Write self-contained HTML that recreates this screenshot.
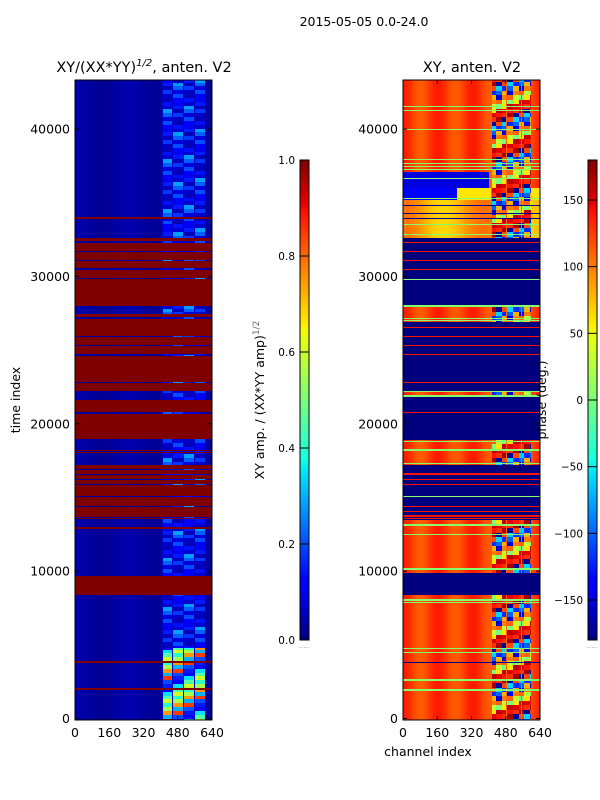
<!DOCTYPE html>
<html><head><meta charset="utf-8">
<style>
body{margin:0;background:#fff;font-family:"DejaVu Sans","Liberation Sans",sans-serif;}
#fig{position:relative;width:600px;height:800px;overflow:hidden;background:#fff;}
canvas{position:absolute;image-rendering:pixelated;}
svg{position:absolute;left:0;top:0;font-family:"DejaVu Sans","Liberation Sans",sans-serif;}
</style></head><body>
<div id="fig">
<canvas id="c1" width="137" height="640" style="left:75px;top:80px;width:137px;height:640px"></canvas>
<canvas id="c2" width="137" height="640" style="left:403px;top:80px;width:137px;height:640px"></canvas>
<canvas id="cb1" width="9" height="480" style="left:300px;top:160px;width:9px;height:480px"></canvas>
<canvas id="cb2" width="9" height="480" style="left:588px;top:160px;width:9px;height:480px"></canvas>
<svg id="ov" width="600" height="800"></svg>
</div>
<script>
// ---- data (time index units, channel index units) ----
const chanTicks=[0,160,320,480,640];
const timeTicks=[0,10000,20000,30000,40000];
const ampTicks=[0.0,0.2,0.4,0.6,0.8,1.0];
const phaseTicks=[-150,-100,-50,0,50,100,150];
// left panel: fully-saturated (1.0) bands [start,end]
const ampRedBands=[[33900,34050],[32400,32641],[31750,32250],[31140,31630],[30550,31020],[29885,30440],[28005,29817],[27258,27462],[26599,27142],[25968,26579],[25356,25900],[24746,25289],[22845,24610],[22254,22798],[20809,21623],[18976,20673],[18160,18250],[18000,18080],[16939,17210],[16600,16871],[16260,16532],[15921,16192],[15106,15853],[14427,15038],[14020,14359],[13680,13985],[13544,13612],[12865,13001],[8385,9695],[3790,3880],[1960,2050]];
const ampBase=0.03;
const ampNoiseHigh=[0.08,0.15,0.05,0.22,0.1,0.06,0.28,0.12,0.18,0.07,0.2,0.05,0.14];
const ampNoiseLow=[0.3,0.6,0.15,0.75,0.45,0.2,0.55,0.35,0.85,0.4,0.12];
// right panel
const phaseBlueBands=[[28005,32621],[22187,26939],[18907,21895],[13476,17210],[8385,9878]];
const phaseGreenLines=[41535,41263,39953,37964,37645,37462,37238,36674,35316,33504,32825,29817,28005,27170,27007,22187,21895,18792,18229,17326,15058,13137,12505,10149,8045,7862,4766,4467,2614,1935];
const phaseRedLines=[32329,31691,31080,30496,26558,25920,25309,24725,22825,20761,16599,16240,15900,14379,14040,13748,13592];
const phaseBlueLines=[34837,34274,33934,3809];
const phaseBase=125;
const phaseNoise=[150,120,-150,60,170,-100,30,140,-60,100,160,-170,80,0,130,-120,110];

// ---- scales ----
const X0=75,X1=212,X0b=403,Y0=80,Y1=720;
function yT(t){return 718.5-t*0.014733;}
function tY(y){return (718.5-y)/0.014733;}
function xC(ch,x0){return x0+ch*137/640;}
function interp(p,v){for(let i=1;i<p.length;i++){if(v<=p[i][0]){const a=p[i-1],b=p[i];return a[1]+(b[1]-a[1])*(v-a[0])/(b[0]-a[0]);}}return p[p.length-1][1];}
function jet(v){v=Math.max(0,Math.min(1,v));
 const r=interp([[0,0],[0.35,0],[0.66,1],[0.89,1],[1,0.5]],v);
 const g=interp([[0,0],[0.125,0],[0.375,1],[0.64,1],[0.91,0],[1,0]],v);
 const b=interp([[0,0.5],[0.11,1],[0.34,1],[0.65,0],[1,0]],v);
 return [r*255|0,g*255|0,b*255|0];}
function inBands(t,bands){for(const b of bands){if(t>=b[0]&&t<=b[1])return true;}return false;}
function nearLine(t,lines,w){for(const l of lines){if(Math.abs(t-l)<=w)return true;}return false;}
const halfPx=1/0.014733*0.6;

function ampVal(t,ch){
 if(inBands(t,ampRedBands))return 1;
 if(ch>=405&&ch<=605){const i=Math.floor((ch-405)/50),j=Math.floor(t/260);
  const arr=t<4800?ampNoiseLow:ampNoiseHigh;const v=arr[(i*5+j*3)%arr.length];
  const edge=((ch-405)%50)<5;return edge?ampBase+0.03:v;}
 return ampBase+0.01*Math.cos(ch/40);
}
function phaseVal(t,ch){
 if(nearLine(t,phaseGreenLines,halfPx))return 5;
 if(nearLine(t,phaseBlueLines,halfPx))return -175;
 const blue=inBands(t,phaseBlueBands);
 if(blue){if(nearLine(t,phaseRedLines,halfPx))return 140;return -180;}
 const noisy=ch>=410&&ch<=600;
 if(noisy){const i=Math.floor((ch-410)/26),j=Math.floor(t/300);
  if(((ch-410)%70)<5)return 110;
  return phaseNoise[(i*7+j*3)%phaseNoise.length];}
 if(t>36016&&t<37102&&ch<400)return -150;
 if(t>35200&&t<=36016)return ch<250?-140:60;
 if(t>32621&&t<=35200)return 85+20*Math.cos(ch/60);
 return phaseBase+12*Math.cos(ch/26);
}
function paint(id,fn,norm){const c=document.getElementById(id),ctx=c.getContext('2d');
 const im=ctx.createImageData(137,640);
 for(let py=0;py<640;py++){const t=tY(Y0+py+0.5);
  for(let px=0;px<137;px++){const ch=(px+0.5)*640/137;const col=jet(norm(fn(t,ch)));
   const k=(py*137+px)*4;im.data[k]=col[0];im.data[k+1]=col[1];im.data[k+2]=col[2];im.data[k+3]=255;}}
 ctx.putImageData(im,0,0);}
paint('c1',ampVal,v=>v);
paint('c2',phaseVal,v=>(v+180)/360);
function cbar(id){const c=document.getElementById(id),ctx=c.getContext('2d');
 for(let y=0;y<480;y++){const col=jet(1-(y+0.5)/480);ctx.fillStyle=`rgb(${col[0]},${col[1]},${col[2]})`;ctx.fillRect(0,y,9,1);}}
cbar('cb1');cbar('cb2');

// ---- overlay ----
const NS='http://www.w3.org/2000/svg',ov=document.getElementById('ov');
function el(tag,attrs,txt){const e=document.createElementNS(NS,tag);for(const k in attrs)e.setAttribute(k,attrs[k]);if(txt!==undefined)e.textContent=txt;ov.appendChild(e);return e;}
function axes(x0,tag){
 const f=el('rect',{x:x0,y:Y0,width:137,height:640,fill:'none',stroke:'#000','stroke-width':1});
 
 
 chanTicks.forEach(c=>{const x=xC(c,x0);
  el('line',{x1:x,y1:Y1,x2:x,y2:Y1-4,stroke:'#000'});el('line',{x1:x,y1:Y0,x2:x,y2:Y0+4,stroke:'#000'});
  const tx=el('text',{x:x,y:737,'font-size':12.5,'text-anchor':'middle'},String(c));
  
  });
 timeTicks.forEach(t=>{const y=yT(t);
  el('line',{x1:x0,y1:y,x2:x0+4,y2:y,stroke:'#000'});el('line',{x1:x0+137,y1:y,x2:x0+133,y2:y,stroke:'#000'});
  const tx=el('text',{x:x0-5,y:y+4.5,'font-size':12.5,'text-anchor':'end'},String(t));
  
  });
}
axes(X0,'left');axes(X0b,'right');
function cbAxis(x,ticks,lo,hi,fmt,tag){
 el('rect',{x:x,y:160,width:9,height:480,fill:'none',stroke:'#000','stroke-width':1});
 ticks.forEach(v=>{const y=640-(v-lo)/(hi-lo)*480;
  el('line',{x1:x,y1:y,x2:x+9,y2:y,stroke:'#000'});
  const tx=el('text',{x:x-5,y:y+4,'font-size':10.5,'text-anchor':'end'},fmt(v));
  
  });
 el('text',{x:x+4.5,y:648,'font-size':7,'text-anchor':'middle',fill:'#888'},'.....');
}
cbAxis(300,ampTicks,0,1,v=>v.toFixed(1),'amp-colorbar');
cbAxis(588,phaseTicks,-180,180,v=>v<0?'\u2212'+(-v):String(v),'phase-colorbar');
</script>
<svg width="600" height="800" style="pointer-events:none">
<text x="364" y="26" font-size="12.5" text-anchor="middle">2015-05-05 0.0-24.0</text>
<text x="144" y="72" font-size="14.5" text-anchor="middle">XY/(XX*YY)<tspan font-size="10" dy="-6" font-style="italic">1/2</tspan><tspan dy="6">, anten. V2</tspan></text>
<text x="472" y="72" font-size="14.5" text-anchor="middle">XY, anten. V2</text>
<text x="20" y="400" font-size="12.5" text-anchor="middle" transform="rotate(-90 20 400)">time index</text>
<text x="428" y="756" font-size="12.5" text-anchor="middle">channel index</text>
<text x="264" y="400" font-size="12.5" text-anchor="middle" transform="rotate(-90 264 400)">XY amp. / (XX*YY amp)<tspan font-size="9" dy="-5" fill="#666">1/2</tspan></text>
<text x="546" y="400" font-size="12.5" text-anchor="middle" transform="rotate(-90 546 400)">phase (deg.)</text>
</svg>
</body></html>
